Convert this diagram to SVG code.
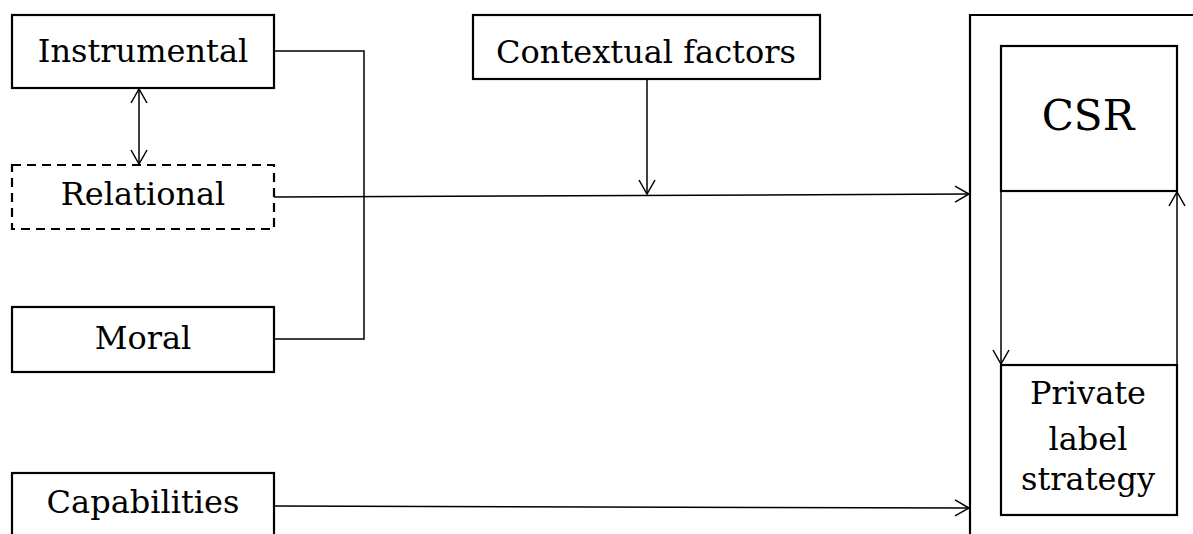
<svg xmlns="http://www.w3.org/2000/svg" width="1193" height="534" viewBox="0 0 1193 534">
<defs>
<style>
.box{fill:#fff;stroke:#000;stroke-width:2.2}
.dash{stroke-dasharray:9,6}
.ln{fill:none;stroke:#000;stroke-width:1.5}
text{font-family:"DejaVu Serif",serif;font-size:32px;fill:#000;text-anchor:middle}
</style>
<marker id="ah" markerUnits="userSpaceOnUse" viewBox="-17 -10 19 20" refX="0" refY="0" markerWidth="19" markerHeight="20" orient="auto-start-reverse">
<path d="M-14,-8 L0,0 L-14,8" fill="none" stroke="#000" stroke-width="1.5"/>
</marker>
</defs>
<rect width="1193" height="534" fill="#fff"/>
<g id="connectors">
<path class="ln" d="M274,51 H364 V339 H274"/>
<path class="ln" d="M139,89 V164" marker-start="url(#ah)" marker-end="url(#ah)"/>
<path class="ln" d="M274,197 L969,194" marker-end="url(#ah)"/>
<path class="ln" d="M647,79 V194" marker-end="url(#ah)"/>
<path class="ln" d="M274,506 L969,508" marker-end="url(#ah)"/>
<path class="ln" d="M1001,191 V364" marker-end="url(#ah)"/>
<path class="ln" d="M1177,365 V192" marker-end="url(#ah)"/>
</g>
<g id="outer">
<path d="M970,534 V15 H1193" fill="none" stroke="#000" stroke-width="2.2"/>
</g>
<g id="instrumental">
<rect class="box" x="12" y="15" width="262" height="73"/>
<text x="143" y="62">Instrumental</text>
</g>
<g id="relational">
<rect class="box dash" x="12" y="165" width="262" height="64"/>
<text x="143" y="205">Relational</text>
</g>
<g id="moral">
<rect class="box" x="12" y="307" width="262" height="65"/>
<text x="143" y="349">Moral</text>
</g>
<g id="capabilities">
<rect class="box" x="12" y="473" width="262" height="80"/>
<text x="143" y="513">Capabilities</text>
</g>
<g id="contextual">
<rect class="box" x="473" y="15" width="347" height="64"/>
<text x="646" y="63">Contextual factors</text>
</g>
<g id="csr">
<rect class="box" x="1001" y="46" width="176" height="145"/>
<text x="1088" y="130" style="font-size:42px">CSR</text>
</g>
<g id="private">
<rect class="box" x="1001" y="365" width="176" height="150"/>
<text x="1088" y="404">Private</text>
<text x="1088" y="450">label</text>
<text x="1088" y="490">strategy</text>
</g>
</svg>
